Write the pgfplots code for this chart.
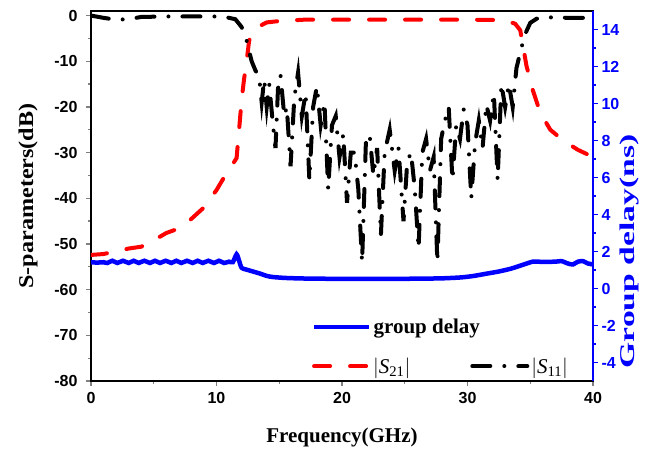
\documentclass[border=0pt]{standalone}
\usepackage{fontspec}
\setmainfont{Liberation Serif}
\setsansfont{Liberation Sans}
\usepackage{amsmath}
\usepackage{graphicx}
\usepackage{pgfplots}
\pgfplotsset{compat=1.18}

\begin{document}
\begin{tikzpicture}
\pgfplotsset{
  every axis/.append style={
    scale only axis, width=502pt, height=370pt,
    xmin=0, xmax=40,
    tick align=outside,
    major tick length=5pt, minor tick length=3pt,
    every tick/.append style={line width=1.3pt},
    /pgf/number format/assume math mode=true,
    ticklabel style={font=\fontsize{16}{16}\selectfont\sffamily\bfseries},
    label style={font=\fontsize{21}{21}\selectfont\bfseries},
  },
}
% left axis: S-parameters
\begin{axis}[
  ymin=-80, ymax=1,
  xtick={0,10,20,30,40}, minor x tick num=1,
  ytick={-80,-70,...,0}, minor y tick num=1,
  xtick pos=left, ytick pos=left,
  axis line style={line width=1.5pt},
  xticklabel shift=3pt, yticklabel shift=5pt,
  xlabel shift=17pt, ylabel shift=10pt,
  xlabel={Frequency(GHz)},
  ylabel={\scalebox{1.15}[1]{S-parameters(dB)}},
  legend image code/.code={\draw[#1] (0pt,0pt) -- (55pt,0pt);},
  legend columns=2,
  legend style={draw=none, fill=none, inner sep=0pt,
    at={(0.44,0.04)}, anchor=west,
    font=\fontsize{21}{21}\selectfont,
    nodes={inner sep=2pt},
    /tikz/every even column/.append style={column sep=58pt}},
]
\addplot[red, line width=4pt, line cap=round, dash pattern=on 16pt off 20pt] coordinates {
(0,-52.4) (1,-52.2) (2,-51.6) (3,-51.0) (4,-50.6) (5,-49.2) (6,-47.6) (7,-46.6)
(8,-44.5) (9,-42.0) (10,-38.2) (10.8,-34.5) (11.3,-32.5) (11.6,-31.2) (11.8,-25)
(12.0,-18.5) (12.2,-13.8) (12.4,-10) (12.6,-5.5) (12.9,-3.5) (13.3,-2.5) (14,-1.5)
(15,-1.2) (17,-0.9) (20,-0.9) (25,-0.9) (30,-0.9) (33,-1.0) (33.8,-1.8) (34.2,-3.2)
(34.7,-11) (35.2,-16.3) (35.8,-21.3) (36.6,-25) (37.6,-27.3) (38.8,-29.4) (39.5,-30.3)
};
\addlegendentry{$\left|\textit{S}_{\text{21}}\right|$}
\addplot[black, line width=4pt, line cap=round, dash pattern=on 18pt off 14pt on 0.01pt off 14pt] coordinates {
(0,0) (1,-0.5) (2,-0.9) (3,-0.8) (4,-0.3) (6,-0.2) (8,-0.2) (10.5,-0.2) (11.5,-0.8)
(12.0,-2.5) (12.4,-5.5) (12.8,-10) (13.1,-12)
(13.4,-13.5) (13.6,-19) (13.8,-14) (14.0,-20) (14.2,-15) (14.5,-24) (14.7,-29)
(14.9,-16) (15.1,-13) (15.4,-22) (15.6,-20) (15.9,-33) (16.2,-18) (16.5,-12.5)
(16.8,-22) (17.1,-17) (17.4,-36) (17.7,-20) (18.0,-15.5) (18.3,-24) (18.6,-19)
(18.9,-38) (19.2,-24) (19.5,-22) (19.8,-31) (20.1,-26) (20.4,-41) (20.7,-30)
(21.0,-30) (21.3,-38) (21.6,-54) (21.9,-28) (22.2,-26) (22.5,-35) (22.8,-29)
(23.1,-48) (23.4,-30) (23.8,-25) (24.2,-34) (24.5,-29) (24.9,-45) (25.2,-32)
(25.5,-30) (25.8,-38) (26.1,-51) (26.4,-30) (26.7,-27) (27.0,-34) (27.3,-31)
(27.6,-54) (27.9,-27) (28.2,-23) (28.5,-20) (28.8,-36) (29.1,-24) (29.4,-27)
(29.7,-20.5) (30.0,-24) (30.3,-40) (30.6,-28) (30.9,-23) (31.2,-29) (31.5,-19.5)
(31.8,-23) (32.1,-17) (32.4,-36) (32.7,-15) (33.0,-20) (33.3,-15) (33.6,-20)
(33.9,-11.5) (34.3,-7) (34.6,-4) (35.0,-1.6) (35.5,-0.7) (36,-0.4) (37,-0.4)
(38,-0.5) (39,-0.5) (40,-0.5)
};
\addlegendentry{$\left|\textit{S}_{\text{11}}\right|$}
\end{axis}
% right axis: group delay
\begin{axis}[
  ymin=-5, ymax=15,
  ytick={-4,-2,...,14}, minor y tick num=1,
  axis y line*=right, axis x line=none,
  y axis line style={blue, line width=1.5pt},
  ytick style={blue},
  yticklabel style={blue},
  ylabel={\scalebox{1.6}[1]{Group delay(ns)}},
  ylabel style={blue, inner sep=0pt, at={(ticklabel* cs:0.35,27pt)}},
  legend image code/.code={\draw[#1] (0pt,0pt) -- (55pt,0pt);},
  legend style={draw=none, fill=none, inner sep=0pt,
    at={(0.44,0.146)}, anchor=west,
    font=\fontsize{21}{21}\selectfont\bfseries,
    nodes={inner sep=2pt}},
]
\addplot[blue, line width=4.5pt, smooth, tension=0.4] coordinates {
(0,1.42) (0.5,1.40) (1.0,1.42) (1.3,1.38) (1.7,1.50) (2.1,1.38) (2.55,1.50)
(3.0,1.38) (3.4,1.50) (3.8,1.38) (4.25,1.50) (4.7,1.38) (5.1,1.50) (5.5,1.38)
(5.95,1.50) (6.4,1.38) (6.8,1.50) (7.2,1.38) (7.65,1.50) (8.1,1.38) (8.5,1.50)
(8.9,1.38) (9.35,1.50) (9.8,1.38) (10.2,1.50) (10.6,1.38) (11.0,1.45) (11.3,1.42)
(11.6,1.85) (11.8,1.5) (12.0,1.12) (12.5,1.0) (13,0.9) (13.5,0.8) (14,0.68)
(14.5,0.62) (15.5,0.57) (17,0.54) (20,0.52) (23,0.52) (26,0.53) (28,0.55)
(29.5,0.6) (30.5,0.68) (31.5,0.8) (32.5,0.92) (33.5,1.08) (34.5,1.3) (35.2,1.45)
(36,1.44) (37,1.45) (37.5,1.48) (38,1.35) (38.4,1.30) (38.8,1.45) (39.2,1.48)
(39.6,1.35) (40,1.30)
};
\addlegendentry{group delay}
\end{axis}
\pgfresetboundingbox
\path ([shift={(-91pt,-69pt)}]current axis.south west) rectangle ([shift={(53pt,11pt)}]current axis.north east);
\end{tikzpicture}
\end{document}
